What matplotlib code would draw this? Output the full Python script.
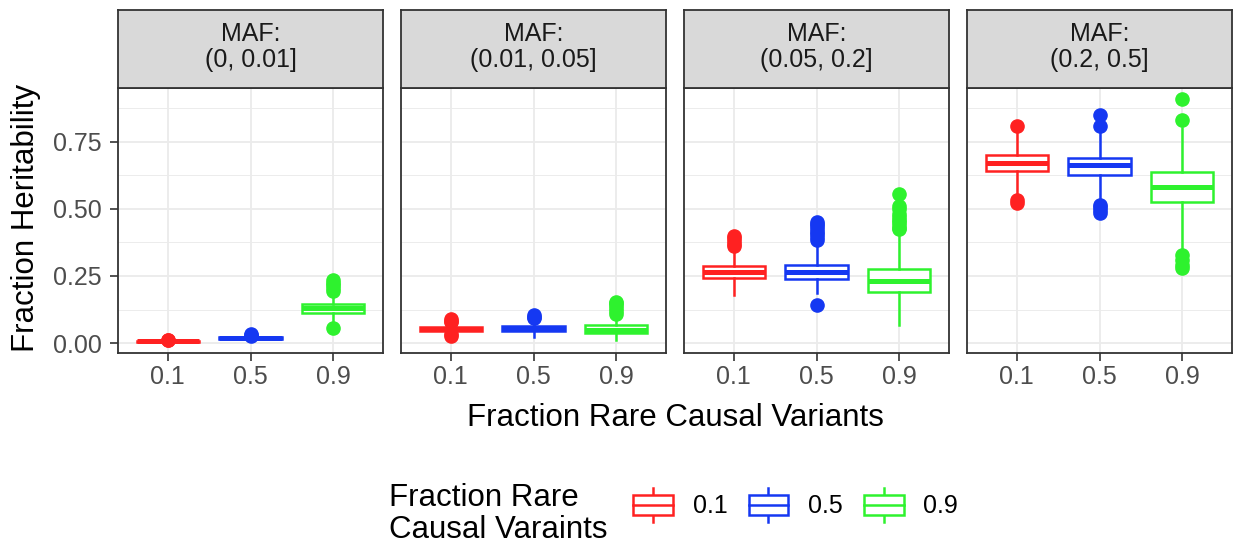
import matplotlib
matplotlib.use('Agg')
import matplotlib.pyplot as plt
from matplotlib.patches import Rectangle
from matplotlib.lines import Line2D
from matplotlib.legend_handler import HandlerBase
from matplotlib.ticker import MultipleLocator

plt.rcParams['font.family'] = ['Liberation Sans', 'DejaVu Sans']

# 面板（MAF 区间）与组别（罕见因果变异比例）
panels = ['MAF:\n(0, 0.01]', 'MAF:\n(0.01, 0.05]', 'MAF:\n(0.05, 0.2]', 'MAF:\n(0.2, 0.5]']
groups = ['0.1', '0.5', '0.9']
colors = ['#FF2121', '#1538F2', '#2EF22E']

# 箱线图统计量，每行一个面板，每列一个组
q1 = [[0.004, 0.017, 0.112],
      [0.045, 0.044, 0.038],
      [0.244, 0.238, 0.191],
      [0.642, 0.625, 0.526]]
med = [[0.006, 0.020, 0.130],
       [0.052, 0.054, 0.050],
       [0.266, 0.266, 0.231],
       [0.670, 0.663, 0.580]]
q3 = [[0.008, 0.023, 0.145],
      [0.058, 0.064, 0.068],
      [0.288, 0.291, 0.276],
      [0.699, 0.691, 0.639]]
whislo = [[0.002, 0.010, 0.080],
          [0.035, 0.024, 0.011],
          [0.179, 0.185, 0.067],
          [0.560, 0.535, 0.350]]
whishi = [[0.010, 0.028, 0.180],
          [0.070, 0.085, 0.100],
          [0.335, 0.370, 0.409],
          [0.785, 0.785, 0.800]]
fliers = [
    [[0.011, 0.013], [0.026, 0.030, 0.033], [0.055, 0.195, 0.205, 0.215, 0.225, 0.235]],
    [[0.028, 0.032, 0.078, 0.084, 0.090], [0.092, 0.098, 0.104], [0.110, 0.120, 0.130, 0.140, 0.148, 0.154]],
    [[0.360, 0.370, 0.380, 0.390, 0.397], [0.142, 0.384, 0.395, 0.405, 0.415, 0.425, 0.435, 0.445, 0.452],
     [0.425, 0.430, 0.440, 0.450, 0.460, 0.470, 0.480, 0.500, 0.510, 0.555]],
    [[0.522, 0.533, 0.808], [0.485, 0.495, 0.505, 0.514, 0.808, 0.849], [0.278, 0.290, 0.310, 0.328, 0.831, 0.909]],
]

W, H = 1233, 546
fig = plt.figure(figsize=(W / 100, H / 100), dpi=100)

panel_left = [118, 401, 684, 967]
panel_w = 265
panel_top, panel_bottom = 88, 353
strip_top = 10

border = '#333333'
grid_c = '#EBEBEB'
small = 18
big = 22.5
lw_box = 1.8

for i, title in enumerate(panels):
    x0 = panel_left[i]
    ax = fig.add_axes([x0 / W, 1 - panel_bottom / H, panel_w / W, (panel_bottom - panel_top) / H])
    ax.set_xlim(0.4, 3.6)
    ax.set_ylim(-0.037, 0.95)
    ax.set_axisbelow(True)
    ax.yaxis.set_major_locator(MultipleLocator(0.25))
    ax.yaxis.set_minor_locator(MultipleLocator(0.125))
    ax.grid(True, which='major', color=grid_c, lw=1.3)
    ax.grid(True, which='minor', axis='y', color=grid_c, lw=0.65)
    for s in ax.spines.values():
        s.set_color(border)
        s.set_linewidth(1.3)
        s.set_zorder(5)

    for j, g in enumerate(groups):
        c = colors[j]
        stats = [dict(q1=q1[i][j], med=med[i][j], q3=q3[i][j],
                      whislo=whislo[i][j], whishi=whishi[i][j],
                      fliers=fliers[i][j], label=g)]
        ax.bxp(stats, positions=[j + 1], widths=0.75, patch_artist=True,
               showcaps=False, manage_ticks=False,
               boxprops=dict(facecolor='white', edgecolor=c, linewidth=lw_box),
               medianprops=dict(color=c, linewidth=lw_box * 2, solid_capstyle='butt'),
               whiskerprops=dict(color=c, linewidth=lw_box),
               flierprops=dict(marker='o', markersize=9.5, markerfacecolor=c,
                               markeredgecolor=c, linestyle='none'))

    ax.set_xticks([1, 2, 3])
    ax.set_xticklabels(groups)
    ax.tick_params(axis='x', length=5.5, width=1.2, color=border, pad=3,
                   labelsize=small, labelcolor='#4D4D4D')
    ax.tick_params(axis='y', which='major', length=5.5, width=1.2, color=border, pad=6,
                   labelsize=small, labelcolor='#4D4D4D')
    ax.tick_params(axis='y', which='minor', length=0)
    if i == 0:
        ax.set_yticks([0, 0.25, 0.5, 0.75])
        ax.set_yticklabels(['0.00', '0.25', '0.50', '0.75'])
    else:
        ax.tick_params(axis='y', which='major', length=0, labelleft=False)

    # 分面标题条
    sax = fig.add_axes([x0 / W, 1 - panel_top / H, panel_w / W, (panel_top - strip_top) / H])
    sax.set_facecolor('#D9D9D9')
    sax.set_xticks([])
    sax.set_yticks([])
    for s in sax.spines.values():
        s.set_color(border)
        s.set_linewidth(1.3)
    sax.text(0.5, 0.52, title, ha='center', va='center', fontsize=small,
             color='#1A1A1A', linespacing=1.1, transform=sax.transAxes)

fig.text(26 / W, 1 - 218 / H, 'Fraction Heritability', rotation=90,
         ha='center', va='center', fontsize=big, color='black')
fig.text(675 / W, 1 - 426 / H, 'Fraction Rare Causal Variants',
         ha='center', va='baseline', fontsize=big, color='black')


class BoxKey(HandlerBase):
    def create_artists(self, legend, orig_handle, xdescent, ydescent,
                       width, height, fontsize, trans):
        c = orig_handle.get_color()
        x0, y0 = -xdescent, -ydescent
        lo, hi = y0 + height * 0.2, y0 + height * 0.8
        xm = x0 + width / 2
        rect = Rectangle((x0, lo), width, hi - lo, facecolor='white',
                         edgecolor=c, lw=lw_box, transform=trans)
        mid = Line2D([x0, x0 + width], [y0 + height / 2] * 2, color=c, lw=lw_box, transform=trans)
        w1 = Line2D([xm, xm], [y0, lo], color=c, lw=lw_box, transform=trans)
        w2 = Line2D([xm, xm], [hi, y0 + height], color=c, lw=lw_box, transform=trans)
        return [w1, w2, rect, mid]


handles = [Line2D([], [], color=c) for c in colors]
fig.legend(handles, groups, handler_map={Line2D: BoxKey()}, ncol=3,
           loc='center left', bbox_to_anchor=(633 / W, 1 - 505 / H),
           frameon=False, fontsize=small, handlelength=1.58, handleheight=1.68,
           handletextpad=0.8, columnspacing=0.85, borderpad=0, borderaxespad=0)
fig.text(389 / W, 1 - 538 / H, 'Fraction Rare\nCausal Varaints', ha='left', va='baseline',
         fontsize=big, color='black', linespacing=1.07)

fig.savefig('out.png', dpi=100)
